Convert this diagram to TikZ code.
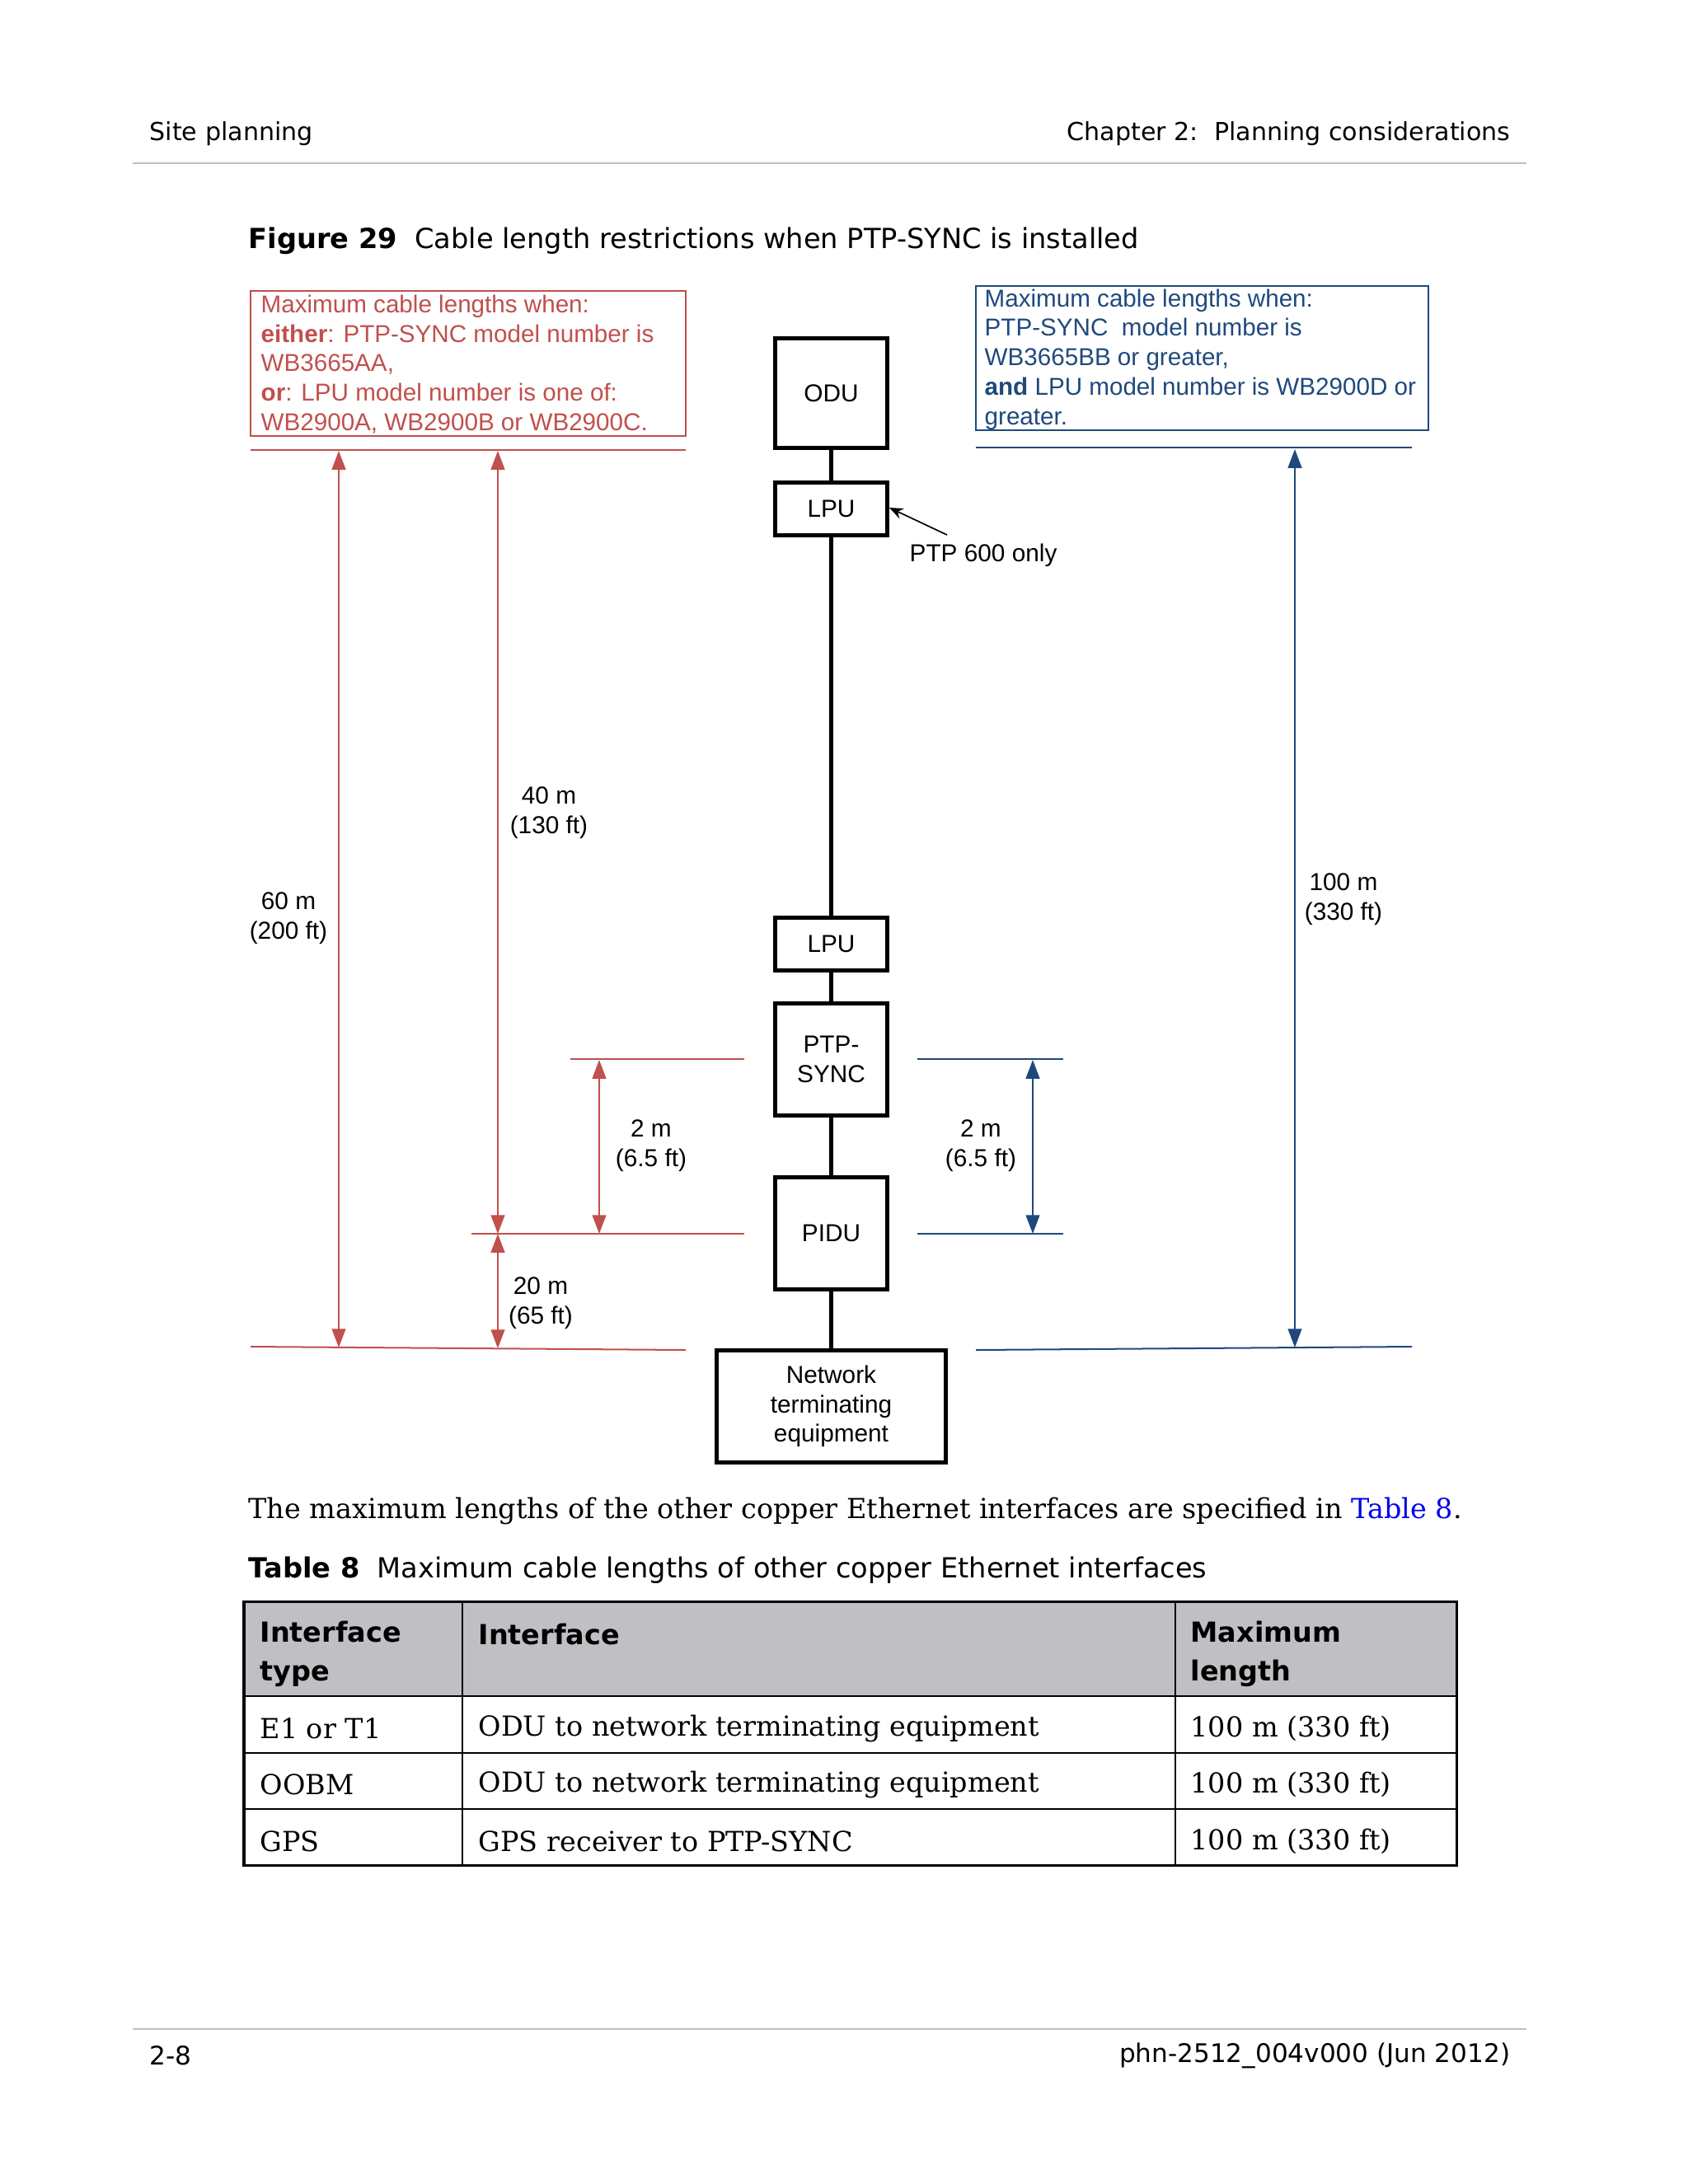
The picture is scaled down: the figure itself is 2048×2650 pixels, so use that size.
\documentclass[tikz,border=0pt]{standalone}
\usepackage{fontspec}
\setmainfont{DejaVu Serif}
\newfontfamily\verd{DejaVu Sans}
\newfontfamily\arial{Liberation Sans}
\usetikzlibrary{arrows.meta}
\definecolor{cred}{HTML}{C0504D}
\definecolor{cblue}{HTML}{1F497D}
\definecolor{rulegray}{HTML}{BFBFBF}
\definecolor{headgray}{HTML}{C0C0C4}
\definecolor{linkblue}{HTML}{0000EE}
\tikzset{
  unitbox/.style={draw=black, line width=1.4pt, inner sep=0pt, minimum width=40.7pt, font=\arial\fontsize{8.9}{10.6}\selectfont, align=center},
  conn/.style={line width=1.4pt},
  redln/.style={draw=cred, line width=0.6pt},
  blueln/.style={draw=cblue, line width=0.6pt},
  redarr/.style={draw=cred, line width=0.6pt, {Triangle[length=6.8pt,width=5pt]}-{Triangle[length=6.8pt,width=5pt]}},
  bluearr/.style={draw=cblue, line width=0.6pt, {Triangle[length=6.8pt,width=5pt]}-{Triangle[length=6.8pt,width=5pt]}},
  dimlbl/.style={font=\arial\fontsize{8.9}{10.6}\selectfont, align=center, inner sep=0pt},
  pagetxt/.style={font=\verd\fontsize{9}{11}\selectfont, inner sep=0pt},
  foottxt/.style={font=\verd\fontsize{9.3}{11}\selectfont, inner sep=0pt},
  captxt/.style={font=\verd\fontsize{10.05}{12}\selectfont, inner sep=0pt},
  bodytxt/.style={font=\fontsize{10}{12}\selectfont, inner sep=0pt},
  headtxt/.style={font=\verd\bfseries\fontsize{10}{14.04}\selectfont, inner sep=0pt, align=left},
}
\begin{document}
\begin{tikzpicture}[x=0.298828pt, y=-0.298828pt]
\useasboundingbox[fill=white] (0,0) rectangle (2048,2650);
% page header and footer
\node[pagetxt, anchor=west] (hl) at (181,162) {Site planning};
\node[pagetxt, anchor=east] (hr) at (1833,162) {Chapter 2:\ \ Planning considerations};
\coordinate (hrl1) at (161,198); \coordinate (hrl2) at (1852,198);
\draw[rulegray, line width=0.6pt] (hrl1) -- (hrl2);
\coordinate (frl1) at (161,2462); \coordinate (frl2) at (1852,2462);
\draw[rulegray, line width=0.6pt] (frl1) -- (frl2);
\node[foottxt, anchor=west] (fl) at (181,2494) {2-8};
\node[foottxt, anchor=east] (fr) at (1833,2494) {phn-2512\_004v000 (Jun 2012)};
% figure caption
\node[captxt, anchor=west] (figcap) at (301,292) {\textbf{Figure 29}\ \ Cable length restrictions when PTP-SYNC is installed};
% condition boxes
\node[draw=cred, line width=0.6pt, inner sep=0pt, minimum width=157.8pt, minimum height=52.6pt] (redbox) at (568,441) {};
\node[text=cred, font=\arial\fontsize{8.85}{10.68}\selectfont, align=left, anchor=west, inner sep=0pt] (redtxt) at (316,442)
  {Maximum cable lengths when:\\\textbf{either}: PTP-SYNC model number is\\WB3665AA,\\\textbf{or}: LPU model number is one of:\\WB2900A, WB2900B or WB2900C.};
\node[draw=cblue, line width=0.6pt, inner sep=0pt, minimum width=164pt, minimum height=52.3pt] (bluebox) at (1458.5,434.5) {};
\node[text=cblue, font=\arial\fontsize{8.85}{10.68}\selectfont, align=left, anchor=west, inner sep=0pt] (bluetxt) at (1194,436)
  {Maximum cable lengths when:\\PTP-SYNC\ \ model number is\\WB3665BB or greater,\\\textbf{and} LPU model number is WB2900D or\\greater.};
% units
\node[unitbox, minimum height=39.8pt] (odu) at (1008.5,477) {ODU};
\node[unitbox, minimum height=19.2pt] (lpu1) at (1008.5,617.5) {LPU};
\node[unitbox, minimum height=19.2pt] (lpu2) at (1008.5,1145.5) {LPU};
\node[unitbox, minimum height=40.7pt] (sync) at (1008.5,1285.5) {PTP-\\SYNC};
\node[unitbox, minimum height=40.7pt] (pidu) at (1008.5,1496.5) {PIDU};
\node[unitbox, minimum height=40.7pt, minimum width=83.2pt] (nte) at (1008.5,1706.5) {Network\\terminating\\equipment};
\draw[conn] (odu) -- (lpu1);
\draw[conn] (lpu1) -- (lpu2);
\draw[conn] (lpu2) -- (sync);
\draw[conn] (sync) -- (pidu);
\draw[conn] (pidu) -- (nte);
% PTP 600 only
\node[dimlbl, anchor=west] (p600) at (1103,674) {PTP 600 only};
\coordinate (p600t) at (1149,649);
\draw[line width=0.5pt, -{Stealth[length=5pt,width=4pt]}] (p600t) -- (lpu1.east |- 1081,616);
% red reference lines
\coordinate (rt1) at (304,546); \coordinate (rt2) at (832,546);
\draw[redln] (rt1) -- (rt2);
\coordinate (rb1) at (304,1634); \coordinate (rb2) at (832,1638);
\draw[redln] (rb1) -- (rb2);
\coordinate (rs1) at (692,1285); \coordinate (rs2) at (903,1285);
\draw[redln] (rs1) -- (rs2);
\coordinate (rp1) at (572,1497); \coordinate (rp2) at (903,1497);
\draw[redln] (rp1) -- (rp2);
% red dimension arrows
\coordinate (a60t) at (411,547); \coordinate (a60b) at (411,1635);
\draw[redarr] (a60t) -- (a60b);
\coordinate (a40t) at (604,547); \coordinate (a40b) at (604,1497);
\draw[redarr] (a40t) -- (a40b);
\coordinate (a20b) at (604,1636);
\draw[redarr] (a40b) -- (a20b);
\coordinate (a2t) at (727,1286); \coordinate (a2b) at (727,1497);
\draw[redarr] (a2t) -- (a2b);
\node[dimlbl] (l60) at (350,1114) {60 m\\(200 ft)};
\node[dimlbl] (l40) at (666,986) {40 m\\(130 ft)};
\node[dimlbl] (l2r) at (790,1390) {2 m\\(6.5 ft)};
\node[dimlbl] (l20) at (656,1581) {20 m\\(65 ft)};
% blue reference lines
\coordinate (bt1) at (1184,543); \coordinate (bt2) at (1713,543);
\draw[blueln] (bt1) -- (bt2);
\coordinate (bb1) at (1184,1638); \coordinate (bb2) at (1713,1634);
\draw[blueln] (bb1) -- (bb2);
\coordinate (bs1) at (1113,1285); \coordinate (bs2) at (1290,1285);
\draw[blueln] (bs1) -- (bs2);
\coordinate (bp1) at (1113,1497); \coordinate (bp2) at (1290,1497);
\draw[blueln] (bp1) -- (bp2);
\coordinate (a100t) at (1571,545); \coordinate (a100b) at (1571,1635);
\draw[bluearr] (a100t) -- (a100b);
\coordinate (b2t) at (1253,1286); \coordinate (b2b) at (1253,1497);
\draw[bluearr] (b2t) -- (b2b);
\node[dimlbl] (l100) at (1630,1091) {100 m\\(330 ft)};
\node[dimlbl] (l2b) at (1190,1390) {2 m\\(6.5 ft)};
% body text
\node[bodytxt, anchor=west] (para) at (301,1833) {The maximum lengths of the other copper Ethernet interfaces are specified in \textcolor{linkblue}{Table 8}.};
\node[captxt, anchor=west] (tabcap) at (301,1905) {\textbf{Table 8}\ \ Maximum cable lengths of other copper Ethernet interfaces};
% table
\fill[headgray] (296,1943) rectangle (1767,2058);
\draw[line width=0.6pt] (296,2058) -- (1767,2058);
\draw[line width=0.6pt] (296,2127) -- (1767,2127);
\draw[line width=0.6pt] (296,2195) -- (1767,2195);
\draw[line width=0.6pt] (561,1943) -- (561,2263);
\draw[line width=0.6pt] (1426,1943) -- (1426,2263);
\draw[line width=0.9pt] (296,1943) rectangle (1767,2263);
\node[headtxt, anchor=west] (h1) at (315,2006.5) {Interface\\type};
\node[headtxt, anchor=west] (h2) at (580,1983) {Interface};
\node[headtxt, anchor=west] (h3) at (1444,2006.5) {Maximum\\length};
\node[bodytxt, anchor=west] (c11) at (315,2097) {E1 or T1};
\node[bodytxt, anchor=west] (c12) at (580,2097) {ODU to network terminating equipment};
\node[bodytxt, anchor=west] (c13) at (1444,2097) {100 m (330 ft)};
\node[bodytxt, anchor=west] (c21) at (315,2165) {OOBM};
\node[bodytxt, anchor=west] (c22) at (580,2165) {ODU to network terminating equipment};
\node[bodytxt, anchor=west] (c23) at (1444,2165) {100 m (330 ft)};
\node[bodytxt, anchor=west] (c31) at (315,2234) {GPS};
\node[bodytxt, anchor=west] (c32) at (580,2234) {GPS receiver to PTP-SYNC};
\node[bodytxt, anchor=west] (c33) at (1444,2234) {100 m (330 ft)};
\end{tikzpicture}
\end{document}
